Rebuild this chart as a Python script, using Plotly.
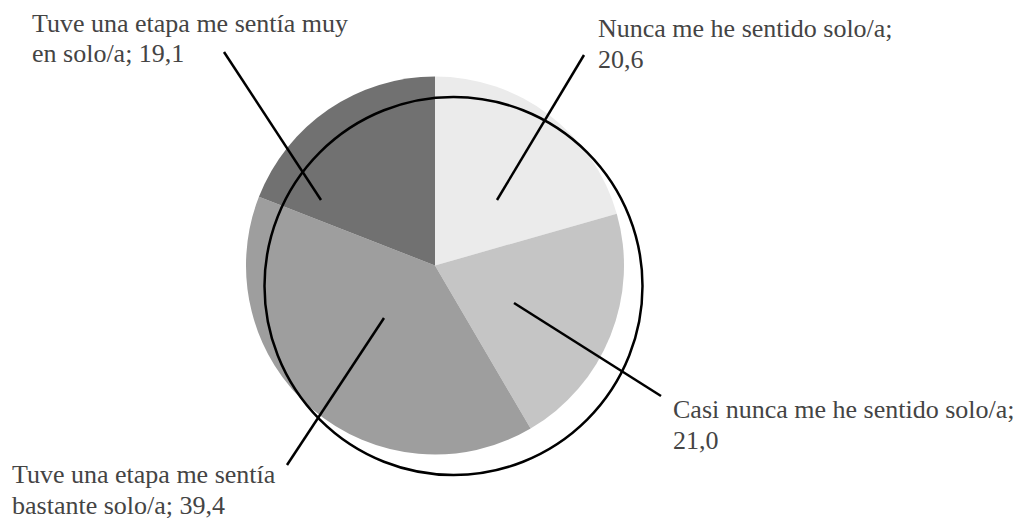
import plotly.graph_objects as go

W, H = 1025, 521

# data
categorias = [
    "Nunca me he sentido solo/a",
    "Casi nunca me he sentido solo/a",
    "Tuve una etapa me sentía bastante solo/a",
    "Tuve una etapa me sentía muy en solo/a",
]
valores = [20.6, 21.0, 39.4, 19.1]
colores = ["#ebebeb", "#c5c5c5", "#9e9e9e", "#717171"]
palabras_linea1 = [5, 6, 5, 6]  # where each label wraps

# callout geometry in pixels: (text x, first-line y, line start, line end)
callouts = [
    (596, 28, (497, 200), (584, 55)),
    (671, 409, (514, 303), (661, 396)),
    (10, 474, (384, 318), (287, 465)),
    (30, 23, (321, 200), (224, 52)),
]
LINE_GAP = 31


def px(x):
    return x / W


def py(y):
    return 1 - y / H


# pie placement (pixels)
cx, cy, r = 435, 265.5, 189
# offset outline circle
ox, oy = 18.5, 20.5

fig = go.Figure(go.Pie(
    labels=categorias,
    values=valores,
    sort=False,
    direction="clockwise",
    rotation=0,
    marker=dict(colors=colores, line=dict(width=0)),
    textinfo="none",
    hoverinfo="label+value",
    domain=dict(x=[px(cx - r), px(cx + r)], y=[py(cy + r), py(cy - r)]),
    showlegend=False,
))

shapes = [dict(
    type="circle", xref="paper", yref="paper",
    x0=px(cx + ox - r), x1=px(cx + ox + r),
    y0=py(cy + oy + r), y1=py(cy + oy - r),
    line=dict(color="black", width=2.5), layer="above",
)]

annotations = []
for cat, val, n, (tx, ty, p0, p1) in zip(categorias, valores, palabras_linea1, callouts):
    texto = f"{cat}; {val:.1f}".replace(".", ",")
    words = texto.split(" ")
    lines = [" ".join(words[:n]), " ".join(words[n:])]
    for i, ln in enumerate(lines):
        annotations.append(dict(
            x=px(tx), y=py(ty + i * LINE_GAP), xref="paper", yref="paper",
            text=ln, showarrow=False, xanchor="left", yanchor="middle",
            font=dict(family="Liberation Serif", size=26, color="#444444"),
        ))
    shapes.append(dict(
        type="line", xref="paper", yref="paper",
        x0=px(p0[0]), y0=py(p0[1]), x1=px(p1[0]), y1=py(p1[1]),
        line=dict(color="black", width=2.5), layer="above",
    ))

fig.update_layout(
    width=W, height=H, autosize=False,
    margin=dict(l=0, r=0, t=0, b=0),
    paper_bgcolor="white", plot_bgcolor="white",
    shapes=shapes, annotations=annotations,
)

fig.write_html("out.html", config={"displayModeBar": False},
               post_script="document.body.style.margin='0px';")
